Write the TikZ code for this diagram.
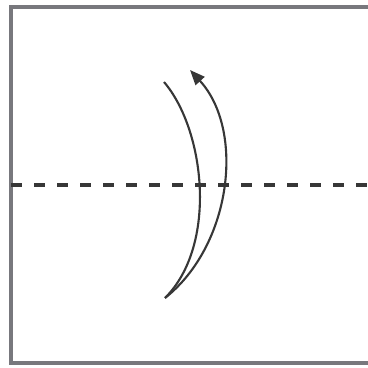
\documentclass[tikz,border=0pt]{standalone}
\usepackage{xcolor}
\usepackage{tikz}
\usetikzlibrary{arrows.meta}
\definecolor{frameGray}{RGB}{120, 120, 125}
\definecolor{lineDark}{RGB}{55, 55, 55}

\begin{document}
\begin{tikzpicture}[x=0.01cm, y=-0.01cm]
    \useasboundingbox (0,0) rectangle (367,368);
    % Paper edge (right side runs off the picture)
    \draw[frameGray, line width=0.9pt] (380,7) -- (11,7) -- (11,363) -- (380,363);
    % Valley fold line
    \draw[lineDark, line width=0.9pt, dash pattern=on 1.1mm off 1.2mm] (11,185) -- (367,185);
    % Fold arrow
    \coordinate (foot) at (165,298);
    \draw[lineDark, line width=0.6pt] (164,82) .. controls (205,130) and (218,245) .. (foot);
    \draw[lineDark, line width=0.6pt, -{Triangle[length=1.5mm, width=1.2mm]}]
        (foot) .. controls (232,245) and (245,130) .. (190,70);
\end{tikzpicture}
\end{document}
